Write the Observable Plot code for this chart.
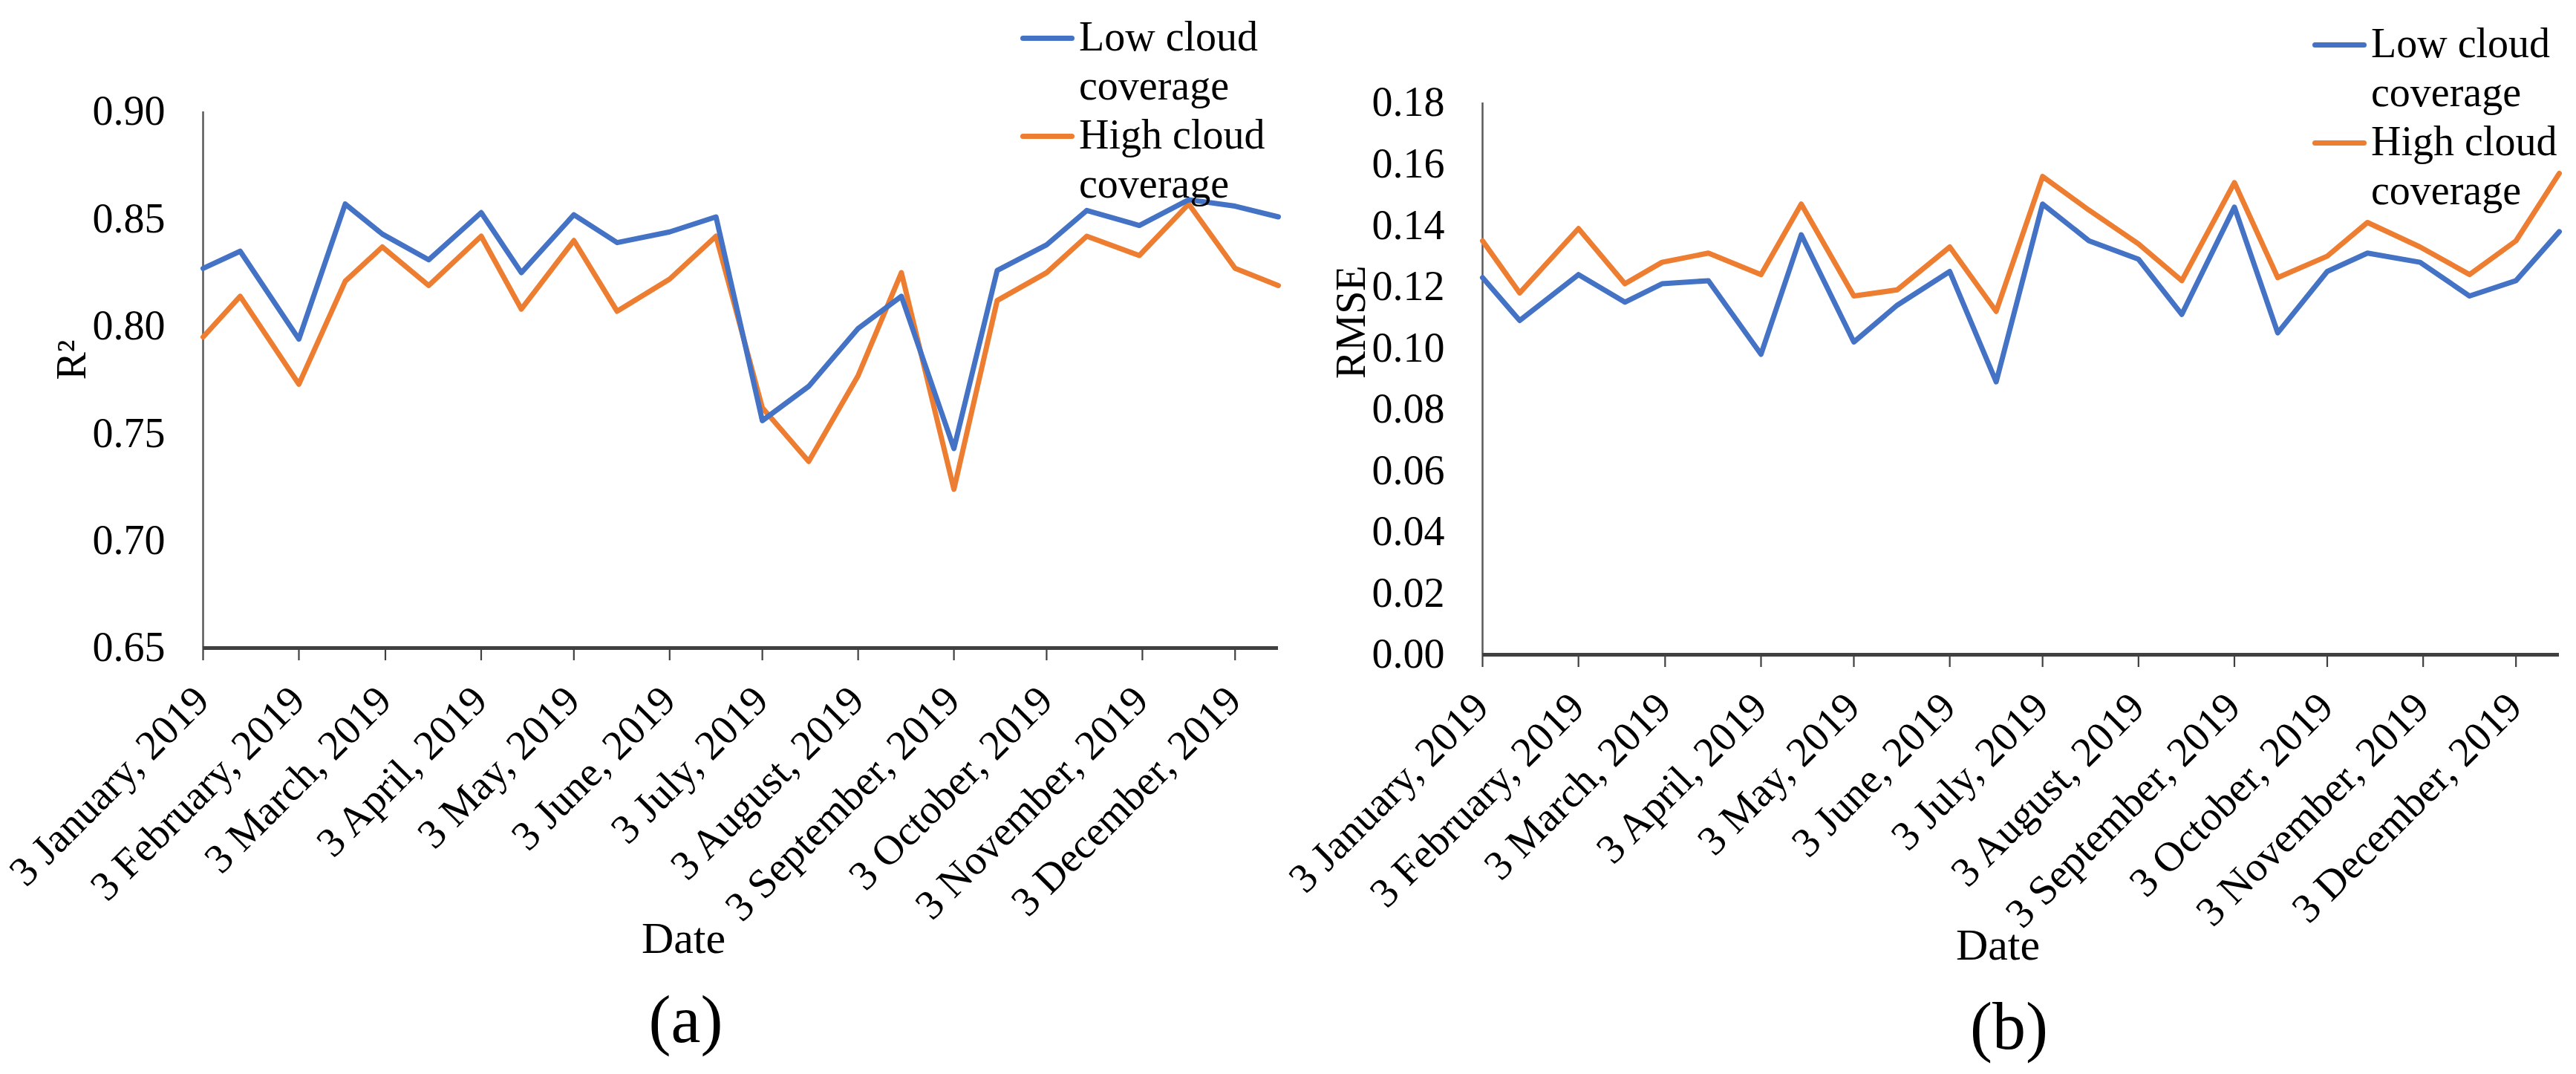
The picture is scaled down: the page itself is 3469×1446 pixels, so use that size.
<!DOCTYPE html>
<html>
<head>
<meta charset="utf-8">
<script src="https://cdn.jsdelivr.net/npm/d3@7"></script>
<script src="https://cdn.jsdelivr.net/npm/@observablehq/plot@0.6"></script>
<style>
  html, body { margin: 0; padding: 0; background: #fff; }
  #wrap { position: relative; width: 3469px; height: 1446px; overflow: hidden; font-family: "Liberation Serif", "Times New Roman", serif; }
  .panel { position: absolute; top: 0; }
  .leg { position: absolute; font-size: 56px; line-height: 66px; color: #000; white-space: nowrap; }
  .legline { position: absolute; height: 7px; border-radius: 4px; }
</style>
</head>
<body>
<div id="wrap"></div>
<script>
// ---- data ----
const dates = ["2019-01-03","2019-01-15","2019-02-03","2019-02-18","2019-03-02","2019-03-17",
               "2019-04-03","2019-04-16","2019-05-03","2019-05-17","2019-06-03","2019-06-18",
               "2019-07-03","2019-07-18","2019-08-03","2019-08-17","2019-09-03","2019-09-17",
               "2019-10-03","2019-10-16","2019-11-02","2019-11-18","2019-12-03","2019-12-17"];
const r2Low  = [0.827,0.835,0.794,0.857,0.843,0.831,0.853,0.825,0.852,0.839,0.844,0.851,
                0.756,0.772,0.799,0.814,0.743,0.826,0.838,0.854,0.847,0.859,0.856,0.851];
const r2High = [0.795,0.814,0.773,0.821,0.837,0.819,0.842,0.808,0.840,0.807,0.822,0.842,
                0.762,0.737,0.777,0.825,0.724,0.812,0.825,0.842,0.833,0.857,0.827,0.819];
const rmseLow  = [0.123,0.109,0.124,0.115,0.121,0.122,0.098,0.137,0.102,0.114,0.125,0.089,
                  0.147,0.135,0.129,0.111,0.146,0.105,0.125,0.131,0.128,0.117,0.122,0.138];
const rmseHigh = [0.135,0.118,0.139,0.121,0.128,0.131,0.124,0.147,0.117,0.119,0.133,0.112,
                  0.156,0.145,0.134,0.122,0.154,0.123,0.130,0.141,0.133,0.124,0.135,0.157];
const monthTicks = ["2019-01-03","2019-02-03","2019-03-03","2019-04-03","2019-05-03","2019-06-03",
                    "2019-07-03","2019-08-03","2019-09-03","2019-10-03","2019-11-03","2019-12-03"];
const r2Ticks   = [0.65,0.70,0.75,0.80,0.85,0.90];
const rmseTicks = [0.00,0.02,0.04,0.06,0.08,0.10,0.12,0.14,0.16,0.18];
const seriesNames = ["Low cloud coverage","High cloud coverage"];
const colors = ["#4472C4","#ED7D31"];

const parse = d3.utcParse("%Y-%m-%d");
const fmt = d3.utcFormat("%-d %B, %Y");
const ticks = monthTicks.map(parse);
const FONT = "'Liberation Serif', 'Times New Roman', serif";

function panel({left, width, mTop, mBottom, mLeft, mRight, lowVals, highVals, yDomain, yTicks, yLabel,
                dateDx, capDx, capText}) {
  const rows = dates.map((d, i) => ({date: parse(d), low: lowVals[i], high: highVals[i]}));
  const x0 = rows[0].date, x1 = rows[rows.length - 1].date;
  const chart = Plot.plot({
    width, height: 1446,
    marginTop: mTop, marginBottom: mBottom, marginLeft: mLeft, marginRight: mRight,
    style: {fontFamily: FONT, fontSize: "56px", color: "#000", background: "#fff", overflow: "visible"},
    x: {type: "utc", domain: [x0, x1]},
    y: {domain: yDomain},
    marks: [
      Plot.axisY({ticks: yTicks, tickFormat: d3.format(".2f"), tickSize: 0, tickPadding: 51,
                  fontSize: 56, label: null}),
      Plot.axisX({ticks, tickFormat: () => "", tickSize: 17, stroke: "#404040", strokeWidth: 2.2, label: null}),
      Plot.text(ticks, {x: d => d, text: d => fmt(d), frameAnchor: "bottom", rotate: -45,
                        textAnchor: "end", lineAnchor: "bottom", dx: 11, dy: 74, fontSize: 56}),
      Plot.ruleX([x0], {stroke: "#595959", strokeWidth: 2.5}),
      Plot.line(rows, {x: "date", y: "high", stroke: colors[1], strokeWidth: 7}),
      Plot.line(rows, {x: "date", y: "low", stroke: colors[0], strokeWidth: 7}),
      Plot.ruleY([yDomain[0]], {stroke: "#404040", strokeWidth: 5}),
      Plot.text([yLabel], {frameAnchor: "left", rotate: -90, dx: -176, fontSize: 56}),
      Plot.text(["Date"], {frameAnchor: "bottom", dx: dateDx, dy: 410, fontSize: 60}),
      Plot.text([capText], {frameAnchor: "bottom", dx: capDx, dy: 530, fontSize: 90})
    ]
  });
  chart.classList.add("panel");
  chart.style.left = left + "px";
  return chart;
}

const wrap = document.getElementById("wrap");
wrap.appendChild(panel({left: 0, width: 1735, mTop: 150, mBottom: 574, mLeft: 273, mRight: 14,
  lowVals: r2Low, highVals: r2High, yDomain: [0.65, 0.90], yTicks: r2Ticks, yLabel: "R²",
  dateDx: -77, capDx: -74, capText: "(a)"}));
wrap.appendChild(panel({left: 1735, width: 1734, mTop: 138, mBottom: 565, mLeft: 261, mRight: 23,
  lowVals: rmseLow, highVals: rmseHigh, yDomain: [0, 0.18], yTicks: rmseTicks, yLabel: "RMSE",
  dateDx: -31, capDx: -16, capText: "(b)"}));

// legends (above each plot, top right)
function legend(textLeft, lineLeft, baseline1) {
  const top = baseline1 - 52;
  const parts = [["Low cloud", "coverage"], ["High cloud", "coverage"]];
  parts.forEach((p, i) => {
    const div = document.createElement("div");
    div.className = "leg";
    div.style.left = textLeft + "px";
    div.style.top = (top + i * 132) + "px";
    div.innerHTML = p[0] + "<br>" + p[1];
    wrap.appendChild(div);
    const ln = document.createElement("div");
    ln.className = "legline";
    ln.style.background = colors[i];
    ln.style.left = lineLeft + "px";
    ln.style.width = (textLeft - lineLeft - 6) + "px";
    ln.style.top = (baseline1 - 20 + i * 132) + "px";
    wrap.appendChild(ln);
  });
}
legend(1453, 1374, 68);
legend(3193, 3114, 77);
</script>
</body>
</html>
